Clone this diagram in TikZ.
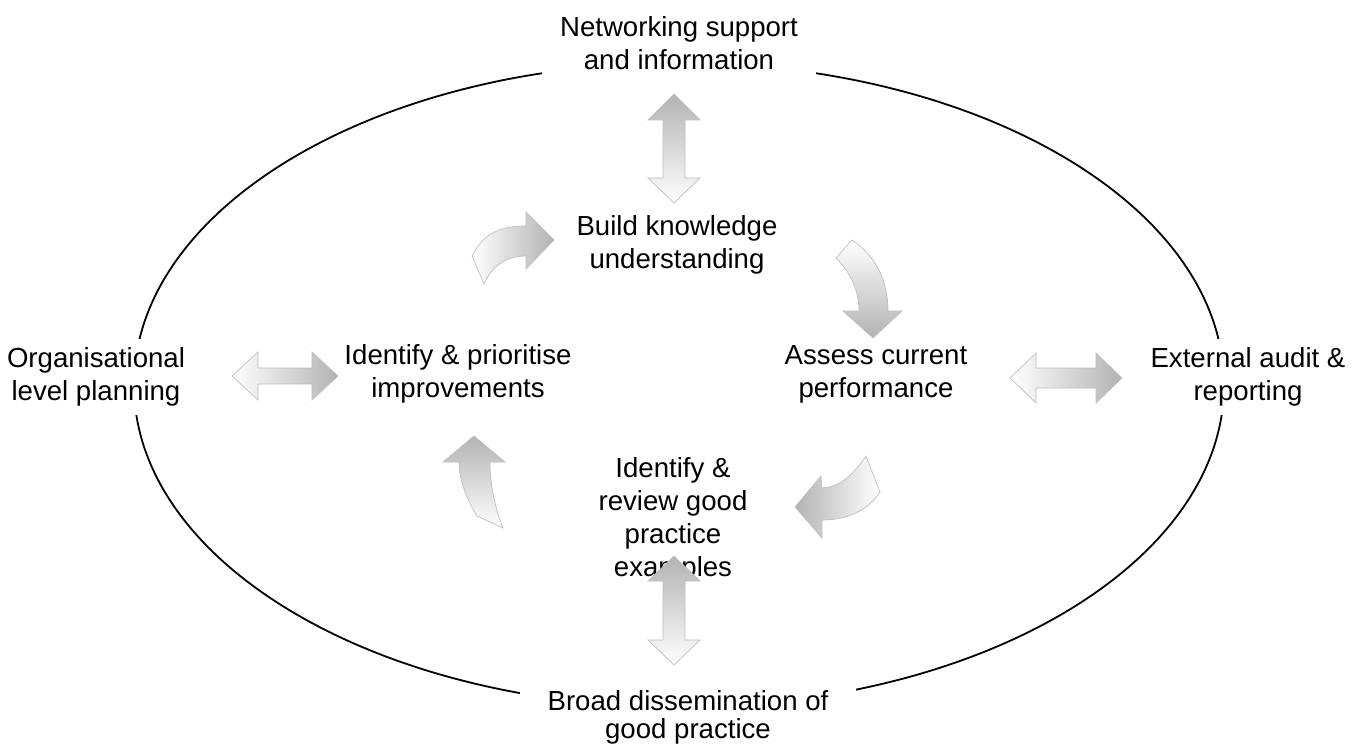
\documentclass[tikz,border=0pt]{standalone}
\usepackage{fontspec}
\setmainfont{Liberation Sans}
\usepackage{tikz}
\usetikzlibrary{shapes.geometric}
\tikzset{
    lbl/.style = {align=center, inner sep=0pt, font=\fontsize{27.6}{33}\selectfont},
    rim/.style = {lbl, fill=white, inner xsep=18pt, inner ysep=9pt},
    fadebox/.style = {draw=gray!50, line width=0.7pt},
    fade_e/.style = {fadebox, left color=white, right color=gray!60},
    fade_w/.style = {fadebox, left color=gray!60, right color=white},
    fade_n/.style = {fadebox, top color=gray!60, bottom color=white},
    fade_s/.style = {fadebox, top color=white, bottom color=gray!60}
}
\begin{document}
\begin{tikzpicture}[x=1pt, y=-1pt]
    \useasboundingbox (0,0) rectangle (1355,749);

    % outer cycle
    \coordinate (mid) at (679,385);
    \draw [line width=1.8pt] (mid) ellipse [x radius=545, y radius=322];

    \node [rim] (net) at (679,43) {Networking support\\and information};
    \node [rim] (org) at (96,377) {Organisational\\level planning};
    \node [rim] (ext) at (1248,377) {External audit \&\\reporting};
    \node [rim, inner xsep=28pt, font=\fontsize{27.6}{28}\selectfont] (broad) at (688,717) {Broad dissemination of\\good practice};

    % inner cycle
    \node [lbl] (build) at (677,245) {Build knowledge\\understanding};
    \node [lbl] (assess) at (876,374) {Assess current\\performance};
    \node [lbl] (review) at (673,520) {Identify \&\\review good\\practice\\examples};
    \node [lbl] (prio) at (458,374) {Identify \& prioritise\\improvements};

    % curved arrows
    \shadedraw [fade_e] (472,256) .. controls (484,232) and (502,226) .. (526,226)
        -- (526,212) -- (554,240) -- (526,269) -- (526,256)
        .. controls (506,256) and (492,266) .. (484,284) -- cycle;
    \shadedraw [fade_s] (852,240) .. controls (875,255) and (888,280) .. (888,311)
        -- (902,311) -- (873,338) -- (843,311) -- (859,311)
        .. controls (859,290) and (850,272) .. (836,258) -- cycle;
    \shadedraw [fade_w] (866,456) .. controls (852,476) and (840,487) .. (822,488)
        -- (821,476) -- (795,507) -- (822,538) -- (822,520)
        .. controls (848,520) and (868,510) .. (880,492) -- cycle;
    \shadedraw [fade_n] (477,516) .. controls (466,498) and (459,480) .. (459,462)
        -- (443,462) -- (474,436) -- (505,462) -- (490,462)
        .. controls (490,485) and (495,508) .. (503,528) -- cycle;

    % double arrows
    \shadedraw [fade_e] (232,376) -- (258,352) -- (258,368) -- (312,368) -- (312,352)
        -- (338,376) -- (312,400) -- (312,384) -- (258,384) -- (258,400) -- cycle;
    \shadedraw [fade_e] (1010,378) -- (1036,353) -- (1036,368) -- (1096,368) -- (1096,353)
        -- (1122,378) -- (1096,403) -- (1096,388) -- (1036,388) -- (1036,403) -- cycle;
    \shadedraw [fade_n] (674,94) -- (700,120) -- (685,120) -- (685,178) -- (700,178)
        -- (674,203) -- (648,178) -- (663,178) -- (663,120) -- (648,120) -- cycle;
    \shadedraw [fade_n] (674,556) -- (700,581) -- (685,581) -- (685,640) -- (700,640)
        -- (674,665) -- (648,640) -- (663,640) -- (663,581) -- (648,581) -- cycle;
\end{tikzpicture}
\end{document}
